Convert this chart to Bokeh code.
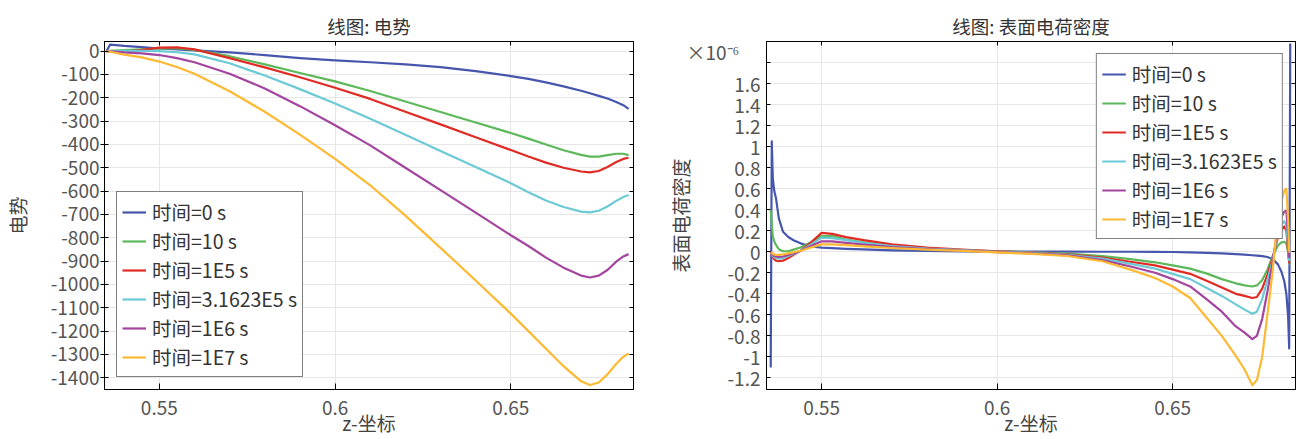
from bokeh.plotting import figure
from bokeh.models import (Range1d, FixedTicker, LinearAxis, Legend, LegendItem,
                          CustomJSTickFormatter)
from bokeh.layouts import row
from bokeh.embed import file_html
from bokeh.resources import INLINE

FONT = "Noto Sans CJK SC"

# ---------------- data ----------------
series_names = ["时间=0 s", "时间=10 s", "时间=1E5 s", "时间=3.1623E5 s", "时间=1E6 s", "时间=1E7 s"]
series_colors = ["#4656ad", "#5cb85a", "#df2b24", "#6ccad6", "#a3449f", "#fcb931"]

# left chart: 电势
z_pot = [0.535, 0.536, 0.540, 0.545, 0.550, 0.555, 0.560, 0.570, 0.580, 0.590, 0.600, 0.610, 0.620,
         0.630, 0.640, 0.650, 0.655, 0.660, 0.665, 0.670, 0.6725, 0.675, 0.6775, 0.680, 0.682, 0.6835]
pot_t0 = [0, 28, 22, 17, 11, 7, 3, -6, -17, -30, -40, -48, -57, -69, -86, -107, -119, -134, -151,
          -170, -181, -192, -203, -218, -232, -248]
pot_t10 = [0, 1, 4, 7, 11, 12, 5, -22, -57, -94, -130, -171, -216, -261, -306, -351, -375, -400,
           -425, -445, -452, -452, -446, -440, -440, -446]
pot_t1e5 = [0, -1, -3, 5, 15, 16, 7, -30, -70, -112, -157, -205, -260, -314, -369, -424, -452, -478,
            -500, -516, -520, -514, -497, -475, -462, -457]
pot_t3e5 = [0, 0, 1, 1, 0, -5, -14, -52, -105, -163, -225, -290, -359, -428, -497, -566, -605, -640,
            -668, -688, -691, -684, -666, -642, -625, -617]
pot_t1e6 = [0, -1, -6, -10, -17, -30, -48, -97, -160, -236, -318, -404, -500, -596, -692, -789, -835,
            -885, -928, -962, -970, -962, -938, -902, -880, -870]
pot_t1e7 = [0, -3, -15, -27, -45, -68, -97, -172, -260, -358, -462, -575, -705, -843, -983, -1125,
            -1200, -1275, -1350, -1415, -1431, -1420, -1385, -1340, -1310, -1296]

# right chart: 表面电荷密度 (values in units of 1e-6)
z_sig = [0.5355, 0.5358, 0.5361, 0.5365, 0.537, 0.5378, 0.539, 0.5405, 0.542, 0.544, 0.547, 0.550,
         0.553, 0.557, 0.562, 0.570, 0.580, 0.590, 0.600, 0.610, 0.620, 0.630, 0.638, 0.645, 0.650,
         0.655, 0.660, 0.664, 0.668, 0.6705, 0.6727, 0.674, 0.6755, 0.677, 0.6785, 0.680, 0.681,
         0.6818, 0.6824, 0.6829, 0.6832, 0.6835]
sig_t0 = [-1.10, 1.05, 0.70, 0.58, 0.51, 0.32, 0.19, 0.14, 0.11, 0.08, 0.05, 0.04, 0.034, 0.028,
          0.022, 0.014, 0.008, 0.004, 0.002, 0.002, 0.001, 0.0, 0.0, -0.001, -0.002, -0.005, -0.01,
          -0.015, -0.022, -0.028, -0.033, -0.037, -0.042, -0.05, -0.07, -0.12, -0.19, -0.28, -0.40,
          -0.62, -0.92, 1.98]
sig_t10 = [0.40, 0.26, 0.15, 0.10, 0.065, 0.025, 0.005, 0.005, 0.02, 0.04, 0.09, 0.15, 0.15, 0.115,
           0.09, 0.055, 0.03, 0.015, 0.005, -0.005, -0.018, -0.04, -0.07, -0.10, -0.13, -0.16, -0.21,
           -0.26, -0.30, -0.32, -0.33, -0.32, -0.27, -0.17, -0.04, 0.06, 0.09, 0.095, 0.08, 0.0,
           -0.10, -0.12]
sig_t1e5 = [0.0, -0.03, -0.05, -0.07, -0.085, -0.09, -0.085, -0.06, -0.03, 0.01, 0.09, 0.18, 0.17,
            0.14, 0.11, 0.07, 0.04, 0.02, 0.005, -0.008, -0.025, -0.055, -0.095, -0.13, -0.17, -0.21,
            -0.28, -0.34, -0.40, -0.42, -0.44, -0.43, -0.35, -0.22, -0.06, 0.14, 0.21, 0.24, 0.20,
            0.0, -0.10, -0.10]
sig_t3e5 = [-0.01, -0.025, -0.04, -0.05, -0.06, -0.065, -0.06, -0.04, -0.02, 0.01, 0.07, 0.135, 0.13,
            0.11, 0.085, 0.055, 0.03, 0.015, 0.0, -0.01, -0.03, -0.065, -0.115, -0.16, -0.21, -0.26,
            -0.35, -0.42, -0.50, -0.55, -0.59, -0.57, -0.45, -0.27, -0.08, 0.18, 0.26, 0.29, 0.25,
            0.05, -0.08, -0.08]
sig_t1e6 = [-0.01, -0.02, -0.03, -0.04, -0.045, -0.05, -0.045, -0.03, -0.015, 0.01, 0.055, 0.10,
            0.098, 0.085, 0.068, 0.045, 0.025, 0.01, -0.003, -0.016, -0.035, -0.08, -0.14, -0.20,
            -0.26, -0.33, -0.46, -0.57, -0.71, -0.77, -0.83, -0.80, -0.64, -0.38, -0.10, 0.25, 0.33,
            0.38, 0.39, 0.15, -0.05, -0.05]
sig_t1e7 = [-0.005, -0.01, -0.02, -0.025, -0.03, -0.03, -0.025, -0.015, -0.005, 0.01, 0.04, 0.07,
            0.07, 0.063, 0.052, 0.036, 0.02, 0.008, -0.006, -0.02, -0.04, -0.09, -0.17, -0.25, -0.33,
            -0.44, -0.64, -0.80, -0.99, -1.12, -1.27, -1.22, -1.00, -0.60, -0.18, 0.36, 0.48, 0.58,
            0.60, 0.30, 0.0, 0.0]

x_ticks = [0.55, 0.6, 0.65]
x_tick_labels = ["0.55", "0.6", "0.65"]
pot_ticks = [0, -100, -200, -300, -400, -500, -600, -700, -800, -900, -1000, -1100, -1200, -1300, -1400]
sig_ticks = [-1.2, -1.0, -0.8, -0.6, -0.4, -0.2, 0.0, 0.2, 0.4, 0.6, 0.8, 1.0, 1.2, 1.4, 1.6, 1.8]
NB = "\u00a0"
sig_tick_labels = ["-1.2", "-1", "-0.8", "-0.6", "-0.4", "-0.2", "0", "0.2", "0.4", "0.6", "0.8",
                   "1", "1.2", "1.4", "1.6", "×10⁻⁶" + NB * 5 + "\n" + NB]

H = 439
TICK_COLOR = "#555555"


def label_formatter(ticks, labels):
    mapping = {f"{t:.3f}": l for t, l in zip(ticks, labels)}
    return CustomJSTickFormatter(args=dict(m=mapping),
                                 code="const k = tick.toFixed(3); return (k in m) ? m[k] : '';")


def build(title, width, bl, br, xr, yr, yticks, yfmt, ylabel, y_tick_out, ylabel_standoff,
          ys, z, legend_loc, ylab_line_height=1.2):
    p = figure(width=width, height=H, x_range=Range1d(*xr), y_range=Range1d(*yr),
               output_backend="svg", toolbar_location=None, title=title,
               min_border_left=bl, min_border_right=br, min_border_top=41, min_border_bottom=50,
               background_fill_color="white", border_fill_color="white")
    p.outline_line_color = "black"
    p.outline_line_width = 1
    p.title.text_font = FONT
    p.title.text_font_size = "18.5px"
    p.title.text_font_style = "normal"
    p.title.text_color = "#333333"
    p.title.align = "center"
    p.title.standoff = 5

    xt = FixedTicker(ticks=x_ticks)
    yt = FixedTicker(ticks=yticks)

    xa = p.xaxis[0]
    xa.ticker = xt
    xa.formatter = label_formatter(x_ticks, x_tick_labels)
    xa.major_tick_in = 6
    xa.major_tick_out = 0
    xa.minor_tick_line_color = None
    xa.major_label_standoff = 11
    xa.major_label_text_font = FONT
    xa.major_label_text_font_size = "19px"
    xa.major_label_text_color = TICK_COLOR
    xa.axis_label = "z-坐标"
    xa.axis_label_standoff = -9
    xa.axis_label_text_font = FONT
    xa.axis_label_text_font_size = "19px"
    xa.axis_label_text_font_style = "normal"
    xa.axis_label_text_color = "#444444"

    ya = p.yaxis[0]
    ya.ticker = yt
    ya.formatter = yfmt
    ya.major_tick_in = 4
    ya.major_tick_out = y_tick_out
    ya.minor_tick_line_color = None
    ya.major_label_standoff = 1 if y_tick_out else 6
    ya.major_label_text_font = FONT
    ya.major_label_text_font_size = "19px"
    ya.major_label_text_color = TICK_COLOR
    ya.major_label_text_line_height = ylab_line_height
    ya.axis_label = ylabel
    ya.axis_label_standoff = ylabel_standoff
    ya.axis_label_text_font = FONT
    ya.axis_label_text_font_size = "19px"
    ya.axis_label_text_font_style = "normal"
    ya.axis_label_text_color = "#444444"

    empty = CustomJSTickFormatter(code="return '';")
    for side, tk in (("right", yt), ("above", xt)):
        ax = LinearAxis(ticker=tk, formatter=empty, major_tick_in=4, major_tick_out=0,
                        minor_tick_line_color=None, major_label_text_font_size="0px",
                        major_label_standoff=0, axis_line_color="black")
        p.add_layout(ax, side)

    p.xgrid.grid_line_color = "#e6e6e6"
    p.ygrid.grid_line_color = "#e6e6e6"

    rs = []
    for yv, c in zip(ys, series_colors):
        rs.append(p.line(z, yv, line_width=2.2, line_color=c, line_join="round"))

    leg = Legend(items=[LegendItem(label=n, renderers=[r]) for n, r in zip(series_names, rs)],
                 location=legend_loc, margin=12, padding=5, spacing=0,
                 glyph_width=24, glyph_height=26, label_height=26, label_standoff=6,
                 label_text_font=FONT, label_text_font_size="19.5px", label_text_color="#333333",
                 border_line_color="black", border_line_width=1,
                 background_fill_color="white", background_fill_alpha=1)
    p.add_layout(leg)
    return p


p1 = build("线图: 电势", 655, 103, 22, (0.5344, 0.6849), (-1450, 41), pot_ticks,
           label_formatter(pot_ticks, [str(t) for t in pot_ticks]), "电势", 4, 17,
           [pot_t0, pot_t10, pot_t1e5, pot_t3e5, pot_t1e6, pot_t1e7], z_pot, "bottom_left")

p2 = build("线图: 表面电荷密度", 641, 111, 1, (0.5343, 0.685), (-1.31, 2.0), sig_ticks,
           label_formatter(sig_ticks, sig_tick_labels), "表面电荷密度", 0, -10,
           [sig_t0, sig_t10, sig_t1e5, sig_t3e5, sig_t1e6, sig_t1e7], z_sig, "top_right",
           ylab_line_height=0.8)

layout = row(p1, p2)
open("out.html", "w").write(file_html(layout, INLINE))
